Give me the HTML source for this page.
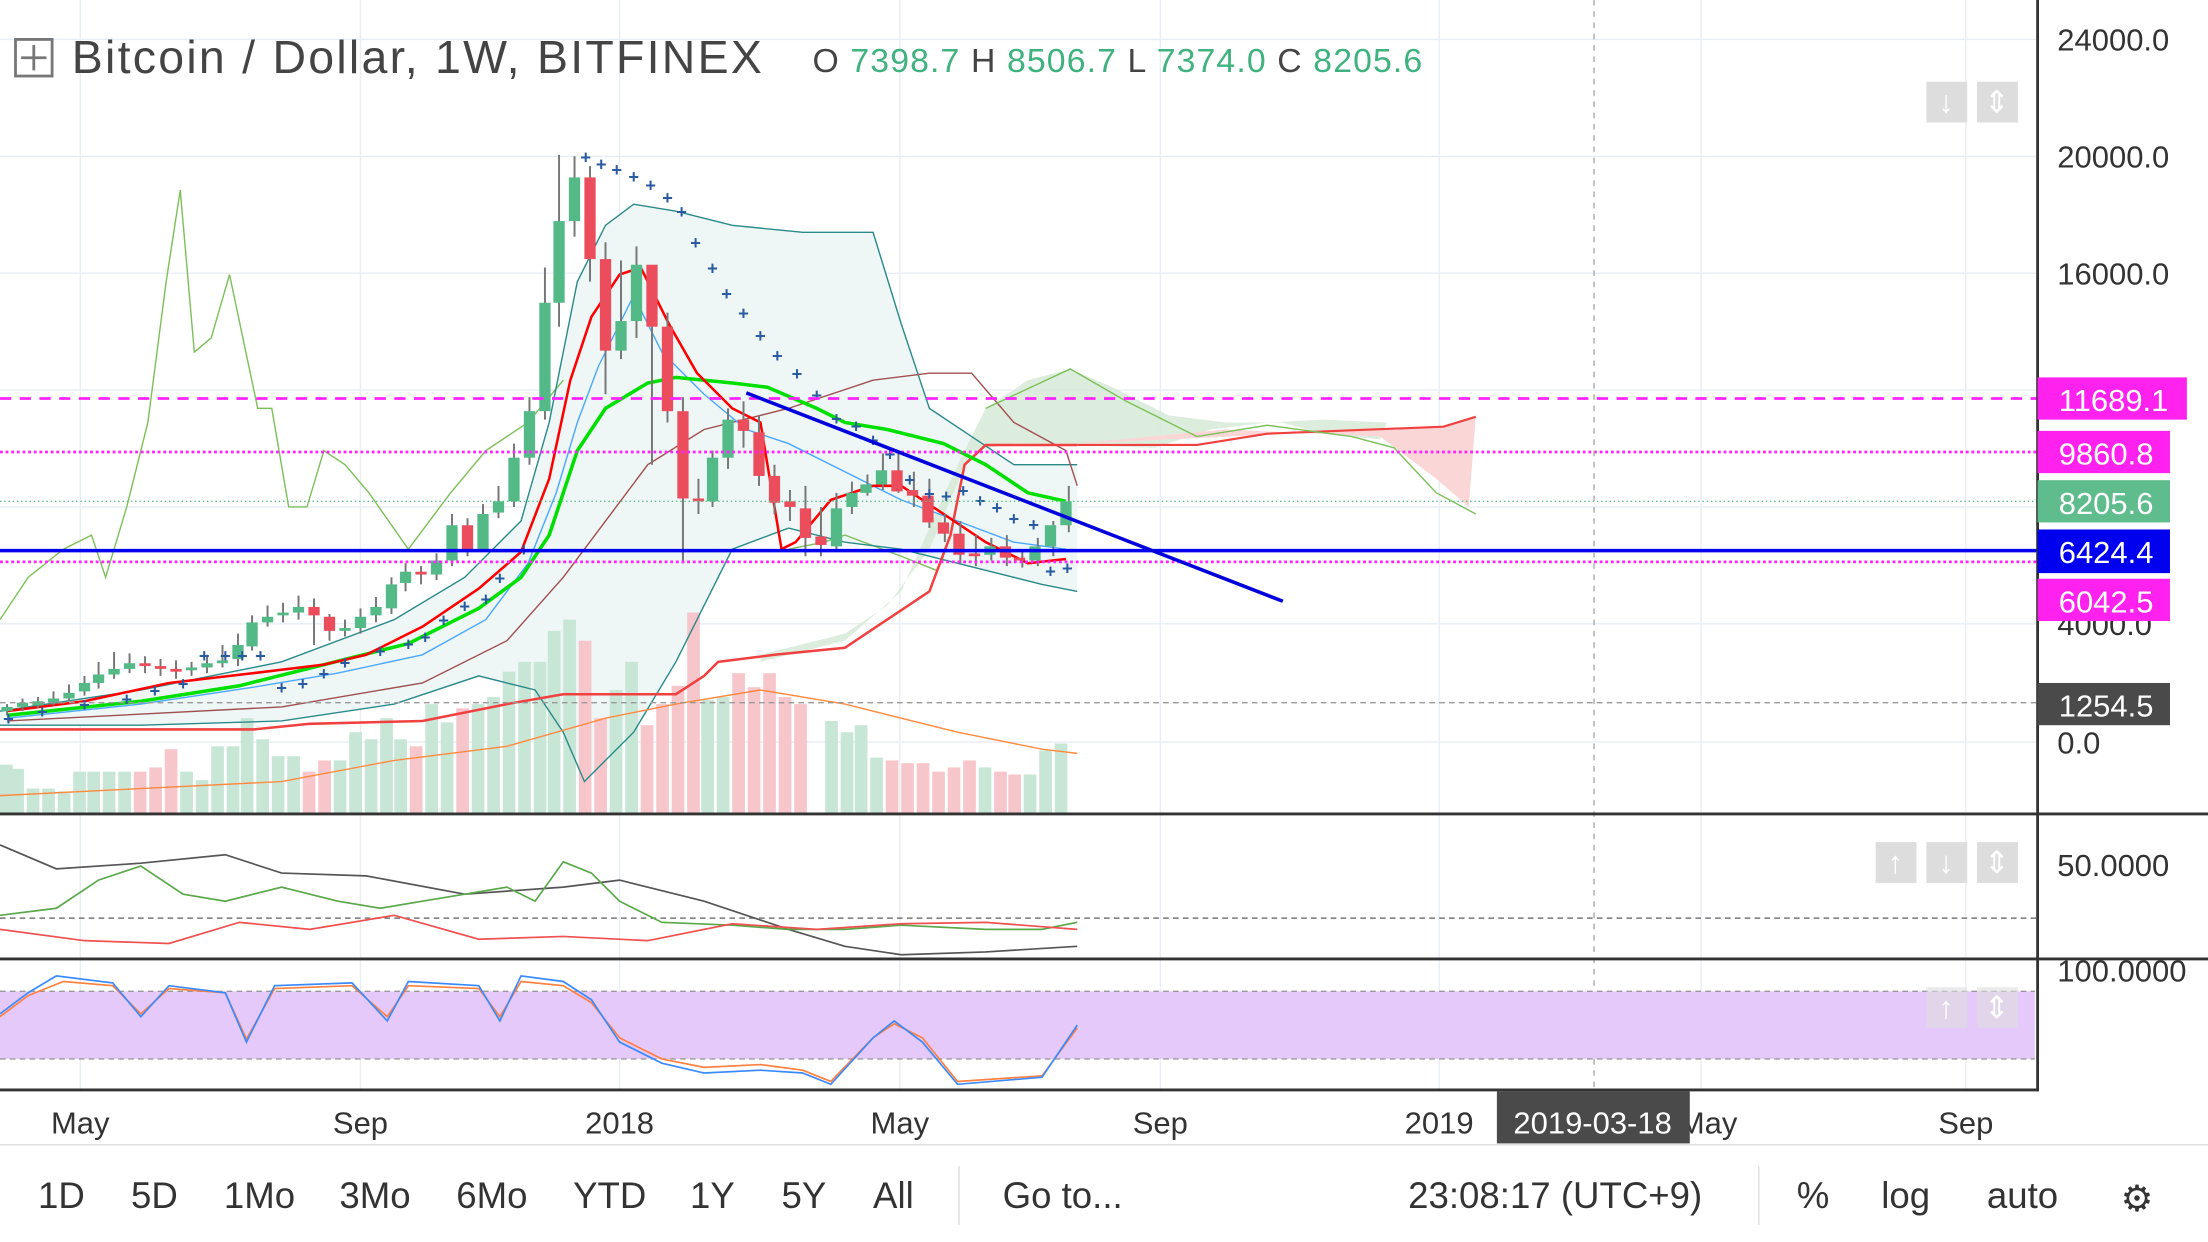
<!DOCTYPE html><html><head><meta charset="utf-8"><style>
html,body{margin:0;padding:0;background:#fff;overflow:hidden}
svg{display:block;font-family:"Liberation Sans",sans-serif}
</style></head><body>
<svg width="2208" height="1242" viewBox="0 0 1568 882" xmlns="http://www.w3.org/2000/svg">
<rect width="1568" height="882" fill="#fff"/>
<g stroke="#e8eef3" stroke-width="1">
<line x1="0" y1="28" x2="1447" y2="28"/><line x1="0" y1="111" x2="1447" y2="111"/><line x1="0" y1="194" x2="1447" y2="194"/><line x1="0" y1="277" x2="1447" y2="277"/><line x1="0" y1="360" x2="1447" y2="360"/><line x1="0" y1="443" x2="1447" y2="443"/><line x1="0" y1="527" x2="1447" y2="527"/>
<line x1="57" y1="0" x2="57" y2="775"/><line x1="256" y1="0" x2="256" y2="775"/><line x1="440" y1="0" x2="440" y2="775"/><line x1="639" y1="0" x2="639" y2="775"/><line x1="824" y1="0" x2="824" y2="775"/><line x1="1022" y1="0" x2="1022" y2="775"/><line x1="1208" y1="0" x2="1208" y2="775"/><line x1="1396" y1="0" x2="1396" y2="775"/>
</g>
<!-- bollinger fill -->
<path d="M0 505L100 490L200 470L280 440L330 410L370 370L390 300L410 200L430 160L450 145L480 150L520 160L570 165L620 165L640 230L660 290L690 310L720 330L765 330L765 420L740 415L700 405L660 395L640 390L600 385L560 375L520 390L480 470L450 520L430 540L415 555L400 520L380 490L340 480L280 500L200 512L100 515L0 515Z" fill="#eef6f6"/>
<!-- cloud -->
<path d="M540 470L600 455L640 420L680 330L700 290L730 270L760 262L790 275L830 295L870 300L910 300L940 308L980 312L985 300L940 298L900 300L860 305L820 318L760 316L720 315L690 320L660 390L630 430L600 450L540 465Z" fill="#d5e9d5" opacity=".8"/>
<path d="M765 315L1025 303L1048 296L1043 360L1020 340L980 310L870 305Z" fill="#fbd6d6"/>
<!-- volume -->
<g fill="#c7e6d6">
<rect x="0" y="543" width="9" height="35"/><rect x="8" y="546" width="9" height="32"/><rect x="19" y="560" width="9" height="18"/><rect x="30" y="560" width="9" height="18"/><rect x="41" y="562" width="9" height="16"/><rect x="52" y="548" width="9" height="30"/><rect x="62" y="548" width="9" height="30"/><rect x="73" y="548" width="9" height="30"/><rect x="84" y="548" width="9" height="30"/><rect x="128" y="548" width="9" height="30"/><rect x="139" y="554" width="9" height="24"/><rect x="150" y="530" width="9" height="48"/><rect x="161" y="530" width="9" height="48"/><rect x="171" y="510" width="9" height="68"/><rect x="182" y="525" width="9" height="53"/><rect x="193" y="537" width="9" height="41"/><rect x="204" y="537" width="9" height="41"/><rect x="237" y="540" width="9" height="38"/><rect x="248" y="520" width="9" height="58"/><rect x="259" y="525" width="9" height="53"/><rect x="270" y="510" width="9" height="68"/><rect x="280" y="525" width="9" height="53"/><rect x="302" y="500" width="9" height="78"/><rect x="313" y="513" width="9" height="65"/><rect x="335" y="500" width="9" height="78"/><rect x="346" y="495" width="9" height="83"/><rect x="357" y="477" width="9" height="101"/><rect x="368" y="470" width="9" height="108"/><rect x="379" y="470" width="9" height="108"/><rect x="389" y="448" width="9" height="130"/><rect x="400" y="440" width="9" height="138"/><rect x="433" y="490" width="9" height="88"/><rect x="444" y="470" width="9" height="108"/><rect x="498" y="497" width="9" height="81"/><rect x="509" y="495" width="9" height="83"/><rect x="586" y="512" width="9" height="66"/><rect x="597" y="520" width="9" height="58"/><rect x="607" y="515" width="9" height="63"/><rect x="618" y="538" width="9" height="40"/><rect x="695" y="545" width="9" height="33"/><rect x="727" y="550" width="9" height="28"/><rect x="738" y="533" width="9" height="45"/><rect x="749" y="528" width="9" height="50"/>
</g>
<g fill="#f7c6cb">
<rect x="95" y="548" width="9" height="30"/><rect x="106" y="545" width="9" height="33"/><rect x="117" y="532" width="9" height="46"/><rect x="215" y="548" width="9" height="30"/><rect x="226" y="540" width="9" height="38"/><rect x="291" y="530" width="9" height="48"/><rect x="324" y="503" width="9" height="75"/><rect x="411" y="455" width="9" height="123"/><rect x="422" y="510" width="9" height="68"/><rect x="455" y="515" width="9" height="63"/><rect x="466" y="500" width="9" height="78"/><rect x="477" y="487" width="9" height="91"/><rect x="488" y="435" width="9" height="143"/><rect x="520" y="478" width="9" height="100"/><rect x="531" y="488" width="9" height="90"/><rect x="542" y="478" width="9" height="100"/><rect x="553" y="495" width="9" height="83"/><rect x="564" y="500" width="9" height="78"/><rect x="629" y="540" width="9" height="38"/><rect x="640" y="542" width="9" height="36"/><rect x="651" y="542" width="9" height="36"/><rect x="662" y="548" width="9" height="30"/><rect x="673" y="545" width="9" height="33"/><rect x="684" y="540" width="9" height="38"/><rect x="706" y="548" width="9" height="30"/><rect x="716" y="550" width="9" height="28"/>
</g>
<!-- lines -->
<g fill="none">
<path d="M0 440L20 410L45 390L65 380L75 410L90 360L105 300L118 200L128 135L138 250L150 240L163 195L183 290L193 290L205 360L218 360L230 320L245 330L262 350L290 390L320 350L345 320L375 300L400 270" stroke="#7cc05a"/>
<path d="M560 390L585 385L600 380L640 395L665 405" stroke="#7cc05a"/>
<path d="M0 505L100 490L200 470L280 440L330 410L370 370L390 300L410 200L430 160L450 145L480 150L520 160L570 165L620 165L640 230L660 290L690 310L720 330L765 330" stroke="#2a8a8a"/>
<path d="M765 420L740 415L700 405L660 395L640 390L600 385L560 375L520 390L480 470L450 520L430 540L415 555L400 520L380 490L340 480L280 500L200 512L100 515L0 515" stroke="#2a8a8a"/>
<path d="M5 512L200 502L300 485L360 455L400 410L430 370L460 330L500 305L560 290L620 270L660 265L690 265L720 300L757 320L765 345" stroke="#a05050"/>
<path d="M0 565L100 560L200 555L280 540L360 530L430 510L480 500L540 490L600 500L680 520L740 532L765 535" stroke="#ff8a40"/>
<path d="M0 518L180 518L220 514L300 512L360 500L400 493L480 493L500 480L510 470L550 465L600 460L630 440L660 420L675 380L685 330L700 316L765 316" stroke="#f04040" stroke-width="1.8"/>
<path d="M765 316L850 316L900 308L1025 303L1048 296" stroke="#f04040" stroke-width="1.5"/>
<path d="M700 290L760 262L800 285L850 310L900 302L960 310L990 318L1020 350L1048 365" stroke="#7cc05a"/>
<path d="M5 510L100 500L180 488L240 478L300 465L345 440L375 400L395 350L410 300L425 260L450 210L470 250L500 280L530 305L560 315L600 335L640 355L680 370L720 385L757 390" stroke="#4aa8ff"/>
<path d="M5 508L100 498L170 487L230 472L290 457L340 432L370 410L390 380L410 320L430 290L460 272L480 268L520 272L545 275L580 290L600 300L630 305L670 315L700 330L730 350L757 356" stroke="#00e000" stroke-width="2.5"/>
<path d="M5 505L60 498L120 485L180 478L230 472L260 465L300 445L340 418L370 392L390 340L405 270L420 225L440 195L455 190L475 230L495 265L520 290L540 300L555 390L565 385L590 355L620 345L640 345L670 365L700 385L730 400L757 397" stroke="#ff0000" stroke-width="1.8"/>
</g>
<!-- candle wicks -->
<path d="M5 500V508M16 496V505M27 495V503M38 491V501M49 486V498M60 480V494M70 470V489M81 463V482M92 464V478M103 466V478M114 468V480M125 469V482M136 470V480M147 465V478M158 458V474M169 450V473M179 437V462M190 430V445M201 428V442M212 423V440M223 425V458M234 436V455M245 440V452M256 432V450M267 424V442M278 410V436M288 400V420M299 402V415M310 393V412M321 365V402M332 368V395M343 358V392M354 345V368M365 315V360M376 282V330M387 190V298M397 110V232M408 111V168M419 118V200M430 172V280M441 185V255M452 175V240M463 215V330M474 222V300M485 282V400M496 340V365M506 320V360M517 290V333M528 285V318M539 295V345M550 330V365M561 348V370M572 345V395M583 360V395M594 350V392M605 342V365M616 337V352M627 322V348M638 320V350M649 335V360M660 340V375M671 365V385M682 370V400M693 380V402M704 382V398M715 380V402M726 390V403M737 382V402M748 370V395M759 345V378" stroke="#777" stroke-width="1.4"/>
<!-- candle bodies -->
<g fill="#53b987">
<rect x="1" y="502" width="8" height="3"/><rect x="12" y="499" width="8" height="3"/><rect x="23" y="498" width="8" height="3"/><rect x="34" y="496" width="8" height="3"/><rect x="45" y="492" width="8" height="4"/><rect x="56" y="485" width="8" height="6"/><rect x="66" y="479" width="8" height="6"/><rect x="77" y="475" width="8" height="4"/><rect x="88" y="471" width="8" height="4"/><rect x="132" y="474" width="8" height="2"/><rect x="143" y="471" width="8" height="3"/><rect x="154" y="469" width="8" height="2"/><rect x="165" y="458" width="8" height="10"/><rect x="175" y="442" width="8" height="17"/><rect x="186" y="438" width="8" height="4"/><rect x="197" y="435" width="8" height="2"/><rect x="208" y="431" width="8" height="4"/><rect x="241" y="446" width="8" height="2"/><rect x="252" y="438" width="8" height="8"/><rect x="263" y="431" width="8" height="6"/><rect x="274" y="415" width="8" height="17"/><rect x="284" y="406" width="8" height="8"/><rect x="306" y="398" width="8" height="10"/><rect x="317" y="373" width="8" height="25"/><rect x="339" y="365" width="8" height="25"/><rect x="350" y="356" width="8" height="8"/><rect x="361" y="325" width="8" height="31"/><rect x="372" y="292" width="8" height="33"/><rect x="383" y="215" width="8" height="77"/><rect x="393" y="157" width="8" height="58"/><rect x="404" y="126" width="8" height="31"/><rect x="437" y="228" width="8" height="21"/><rect x="448" y="188" width="8" height="40"/><rect x="502" y="325" width="8" height="31"/><rect x="513" y="298" width="8" height="27"/><rect x="590" y="361" width="8" height="27"/><rect x="601" y="350" width="8" height="10"/><rect x="611" y="344" width="8" height="6"/><rect x="622" y="334" width="8" height="10"/><rect x="699" y="388" width="8" height="6"/><rect x="731" y="388" width="8" height="10"/><rect x="742" y="373" width="8" height="15"/><rect x="753" y="356" width="8" height="17"/>
</g>
<g fill="#eb4d5c">
<rect x="99" y="471" width="8" height="2"/><rect x="110" y="473" width="8" height="2"/><rect x="121" y="475" width="8" height="2"/><rect x="219" y="431" width="8" height="6"/><rect x="230" y="438" width="8" height="10"/><rect x="295" y="406" width="8" height="2"/><rect x="328" y="373" width="8" height="17"/><rect x="415" y="126" width="8" height="58"/><rect x="426" y="184" width="8" height="65"/><rect x="459" y="188" width="8" height="44"/><rect x="470" y="232" width="8" height="60"/><rect x="481" y="292" width="8" height="62"/><rect x="492" y="354" width="8" height="2"/><rect x="524" y="298" width="8" height="8"/><rect x="535" y="307" width="8" height="31"/><rect x="546" y="338" width="8" height="19"/><rect x="557" y="356" width="8" height="4"/><rect x="568" y="361" width="8" height="21"/><rect x="579" y="381" width="8" height="6"/><rect x="633" y="334" width="8" height="15"/><rect x="644" y="348" width="8" height="4"/><rect x="655" y="352" width="8" height="19"/><rect x="666" y="371" width="8" height="8"/><rect x="677" y="379" width="8" height="15"/><rect x="688" y="393" width="8" height="2"/><rect x="710" y="388" width="8" height="8"/><rect x="720" y="396" width="8" height="2"/>
</g>
<!-- SAR -->
<g font-size="13" font-weight="bold" fill="#2a5aa0" text-anchor="middle">
<text x="416" y="116">+</text><text x="427" y="121">+</text><text x="438" y="125">+</text><text x="450" y="130">+</text><text x="462" y="136">+</text><text x="474" y="145">+</text><text x="484" y="155">+</text><text x="494" y="177">+</text><text x="506" y="195">+</text><text x="516" y="213">+</text><text x="528" y="227">+</text><text x="540" y="243">+</text><text x="552" y="257">+</text><text x="566" y="270">+</text><text x="580" y="285">+</text><text x="594" y="302">+</text><text x="608" y="307">+</text><text x="620" y="317">+</text><text x="632" y="327">+</text><text x="646" y="345">+</text><text x="660" y="355">+</text><text x="672" y="357">+</text><text x="684" y="353">+</text><text x="696" y="360">+</text><text x="708" y="365">+</text><text x="720" y="373">+</text><text x="734" y="377">+</text><text x="746" y="410">+</text><text x="758" y="408">+</text>
<text x="6" y="515">+</text><text x="30" y="510">+</text><text x="60" y="505">+</text><text x="90" y="501">+</text><text x="110" y="495">+</text><text x="130" y="490">+</text><text x="145" y="470">+</text><text x="160" y="470">+</text><text x="172" y="470">+</text><text x="185" y="470">+</text><text x="200" y="493">+</text><text x="215" y="490">+</text><text x="230" y="483">+</text><text x="245" y="475">+</text><text x="270" y="467">+</text><text x="290" y="462">+</text><text x="302" y="457">+</text><text x="315" y="445">+</text><text x="330" y="435">+</text><text x="345" y="430">+</text><text x="355" y="415">+</text><text x="372" y="395">+</text>
</g>
<!-- horizontals -->
<line x1="0" y1="283" x2="1447" y2="283" stroke="#ff22ff" stroke-width="2" stroke-dasharray="8,6"/>
<line x1="0" y1="321" x2="1447" y2="321" stroke="#ff22ff" stroke-width="2" stroke-dasharray="2,2"/>
<line x1="0" y1="356" x2="1447" y2="356" stroke="#5fbc8c" stroke-width="1" stroke-dasharray="1,2"/>
<line x1="0" y1="391" x2="1447" y2="391" stroke="#0000ee" stroke-width="2.5"/>
<line x1="0" y1="399" x2="1447" y2="399" stroke="#ff22ff" stroke-width="2" stroke-dasharray="2,2"/>
<line x1="0" y1="499" x2="1447" y2="499" stroke="#999" stroke-width="1" stroke-dasharray="4,3"/>
<line x1="530" y1="279" x2="911" y2="427" stroke="#0000dd" stroke-width="2.5"/>
<line x1="1132" y1="0" x2="1132" y2="775" stroke="#aaa" stroke-width="1" stroke-dasharray="4,4"/>
<!-- panes -->
<line x1="0" y1="578" x2="1568" y2="578" stroke="#333" stroke-width="2"/>
<line x1="0" y1="681" x2="1568" y2="681" stroke="#333" stroke-width="2"/>
<line x1="0" y1="774" x2="1447" y2="774" stroke="#333" stroke-width="2"/>
<line x1="1447" y1="0" x2="1447" y2="775" stroke="#333" stroke-width="2"/>
<line x1="0" y1="652" x2="1447" y2="652" stroke="#777" stroke-width="1" stroke-dasharray="4,3"/>
<rect x="0" y="704" width="1445" height="48" fill="#e5c9fb"/>
<line x1="0" y1="704" x2="1445" y2="704" stroke="#999" stroke-dasharray="4,3"/>
<line x1="0" y1="752" x2="1445" y2="752" stroke="#999" stroke-dasharray="4,3"/>
<g fill="none" stroke-width="1.2">
<path d="M0 600L40 617L100 613L160 607L200 620L260 622L330 635L400 630L440 625L500 640L560 660L600 672L640 678L700 676L765 672" stroke="#555"/>
<path d="M0 650L40 645L70 625L100 615L130 635L160 640L200 630L240 640L270 645L300 640L330 635L360 630L380 640L400 612L420 620L440 640L470 655L520 657L560 660L600 660L640 657L700 660L740 660L765 655" stroke="#5aa84a"/>
<path d="M0 660L60 668L120 670L170 655L220 660L280 650L340 667L400 665L460 668L520 656L580 660L640 656L700 655L765 660" stroke="#f05050"/>
<path d="M0 722L20 707L45 697L80 700L100 720L120 702L160 705L175 738L195 702L250 700L275 722L290 700L340 702L355 722L370 697L400 700L420 712L440 737L470 752L500 758L540 756L570 760L590 768L620 737L635 727L655 737L680 768L740 764L765 730" stroke="#ff8040"/>
<path d="M0 720L20 705L40 693L80 698L100 722L120 700L160 705L175 740L195 700L250 698L275 725L290 697L340 700L355 725L370 693L400 697L420 710L440 740L470 755L500 762L540 760L570 762L590 770L620 737L635 725L655 740L680 770L740 765L765 728" stroke="#3a8aff"/>
</g>
<!-- buttons -->
<g fill="#ddd"><rect x="1368" y="58" width="29" height="29"/><rect x="1404" y="58" width="29" height="29"/>
<rect x="1332" y="598" width="29" height="29"/><rect x="1368" y="598" width="29" height="29"/><rect x="1404" y="598" width="29" height="29"/>
<rect x="1368" y="701" width="29" height="29" opacity=".6"/><rect x="1404" y="701" width="29" height="29" opacity=".6"/></g>
<g fill="#fff" font-size="22" text-anchor="middle"><text x="1382" y="80">↓</text><text x="1418" y="80">⇕</text><text x="1346" y="620">↑</text><text x="1382" y="620">↓</text><text x="1418" y="620">⇕</text><text x="1382" y="723">↑</text><text x="1418" y="723">⇕</text></g>
<!-- title -->
<rect x="11" y="28" width="26" height="26" fill="none" stroke="#777" stroke-width="2"/><line x1="24" y1="32" x2="24" y2="50" stroke="#777" stroke-width="2"/><line x1="15" y1="41" x2="33" y2="41" stroke="#777" stroke-width="2"/>
<text x="51" y="52" font-size="33" fill="#444" textLength="490">Bitcoin / Dollar, 1W, BITFINEX</text>
<text x="577" y="51" font-size="24" fill="#444" textLength="433">O <tspan fill="#3fb27f">7398.7</tspan>  H <tspan fill="#3fb27f">8506.7</tspan>  L <tspan fill="#3fb27f">7374.0</tspan>  C <tspan fill="#3fb27f">8205.6</tspan></text>
<!-- price axis -->
<g font-size="22" fill="#333">
<text x="1461" y="36">24000.0</text><text x="1461" y="119">20000.0</text><text x="1461" y="202">16000.0</text><text x="1461" y="451">4000.0</text><text x="1461" y="535">0.0</text>
<text x="1461" y="622">50.0000</text><text x="1461" y="697">100.0000</text></g>
<rect x="1447" y="268" width="106" height="30" fill="#ff22ee"/><text x="1462" y="292" font-size="22" fill="#fff">11689.1</text>
<rect x="1447" y="306" width="94" height="30" fill="#ff22ee"/><text x="1462" y="330" font-size="22" fill="#fff">9860.8</text>
<rect x="1447" y="341" width="94" height="30" fill="#5fbc8c"/><text x="1462" y="365" font-size="22" fill="#fff">8205.6</text>
<rect x="1447" y="376" width="94" height="31" fill="#0000ee"/><text x="1462" y="400" font-size="22" fill="#fff">6424.4</text>
<rect x="1447" y="411" width="94" height="30" fill="#ff22ee"/><text x="1462" y="435" font-size="22" fill="#fff">6042.5</text>
<rect x="1447" y="485" width="94" height="30" fill="#4a4a4a"/><text x="1462" y="509" font-size="22" fill="#fff">1254.5</text>
<!-- time axis -->
<g font-size="22" fill="#333" text-anchor="middle"><text x="57" y="805">May</text><text x="256" y="805">Sep</text><text x="440" y="805">2018</text><text x="639" y="805">May</text><text x="824" y="805">Sep</text><text x="1022" y="805">2019</text><text x="1213" y="805">May</text><text x="1396" y="805">Sep</text></g>
<rect x="1063" y="775" width="137" height="37" fill="#4a4a4a"/><text x="1131" y="805" font-size="22" fill="#fff" text-anchor="middle">2019-03-18</text>
<line x1="0" y1="813" x2="1568" y2="813" stroke="#ddd"/>
<g font-size="26" fill="#333"><text x="27" y="858">1D</text><text x="93" y="858">5D</text><text x="159" y="858">1Mo</text><text x="241" y="858">3Mo</text><text x="324" y="858">6Mo</text><text x="407" y="858">YTD</text><text x="490" y="858">1Y</text><text x="555" y="858">5Y</text><text x="620" y="858">All</text>
<text x="712" y="858">Go to...</text><text x="1000" y="858">23:08:17 (UTC+9)</text><text x="1276" y="858">%</text><text x="1336" y="858">log</text><text x="1411" y="858">auto</text><text x="1506" y="860">⚙</text></g>
<g stroke="#ddd"><line x1="681" y1="828" x2="681" y2="870"/><line x1="1249" y1="828" x2="1249" y2="870"/></g>
</svg>
</body></html>
